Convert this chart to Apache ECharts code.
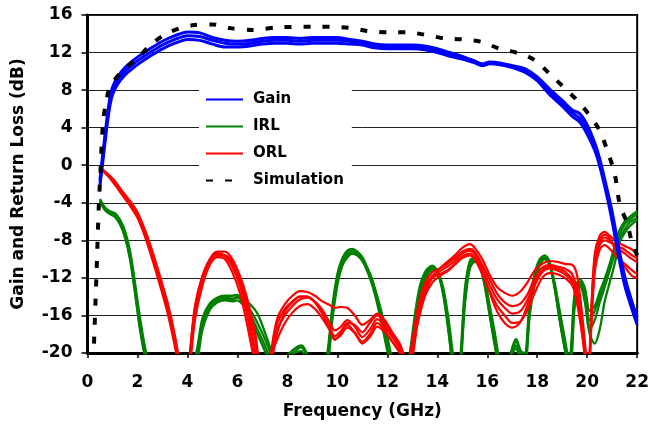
<!DOCTYPE html>
<html>
<head>
<meta charset="utf-8">
<script src="https://cdn.jsdelivr.net/npm/echarts@6/dist/echarts.min.js"></script>
<style>
html,body{margin:0;padding:0;background:#fff;}
#chart{width:652px;height:427px;}
</style>
</head>
<body>
<div id="chart"></div>
<script>
// ---------- axis ticks ----------
var xTicks = [0,2,4,6,8,10,12,14,16,18,20,22];
var yTicks = [-20,-16,-12,-8,-4,0,4,8,12,16];

// ---------- Gain (3 measured traces) ----------
var gainFreq = [0.5,0.6,0.7,0.8,0.9,1.0,1.2,1.5,1.8,2.1,
  2.5,3.0,3.5,4.0,4.5,5.0,5.5,6.0,6.5,7.0,
  7.5,8.0,8.5,9.0,9.5,10.0,10.5,11.0,11.5,12.0,
  12.5,13.0,13.5,14.0,14.5,15.0,15.5,15.8,16.1,16.5,
  17.0,17.5,18.0,18.5,19.0,19.4,19.7,20.0,20.3,20.5,
  20.8,21.0,21.3,21.5,21.75,22.0];
var gainA = [-1.5,0.9,3.2,5.4,7.2,8.3,9.4,10.4,11.1,11.7,
  12.4,13.2,13.8,14.2,14.1,13.6,13.3,13.2,13.3,13.5,
  13.6,13.6,13.5,13.6,13.6,13.6,13.4,13.2,12.9,12.8,
  12.8,12.8,12.7,12.4,12.0,11.6,11.1,10.8,11.0,10.9,
  10.6,10.3,9.4,8.1,6.9,5.9,5.5,4.3,2.4,0.7,
  -2.6,-5.0,-9.3,-11.8,-14.2,-16.2];
var gainB = [-1.8,0.5,2.8,5.0,6.8,7.9,9.0,10.0,10.7,11.3,
  12.0,12.8,13.4,13.8,13.7,13.3,13.0,12.9,13.0,13.2,
  13.3,13.3,13.2,13.3,13.3,13.3,13.2,13.0,12.7,12.6,
  12.6,12.6,12.5,12.2,11.8,11.5,11.0,10.7,10.9,10.8,
  10.5,10.1,9.2,7.8,6.6,5.6,5.0,3.8,2.0,0.3,
  -3.0,-5.5,-9.8,-12.3,-14.6,-16.6];
var gainC = [-2.1,0.1,2.4,4.6,6.4,7.5,8.6,9.6,10.3,10.9,
  11.6,12.4,13.0,13.4,13.3,12.9,12.6,12.6,12.7,12.9,
  13.0,13.0,12.9,13.0,13.0,13.0,12.9,12.8,12.5,12.4,
  12.4,12.4,12.3,12.0,11.6,11.3,10.9,10.6,10.8,10.7,
  10.4,9.9,9.0,7.5,6.3,5.2,4.6,3.3,1.6,-0.1,
  -3.4,-6.0,-10.3,-12.8,-15.0,-17.0];

// ---------- IRL (4 measured traces) ----------
var irlFreq = [0.5,0.7,0.9,1.1,1.3,1.5,1.7,1.9,2.1,2.35,
  3.3,4.35,4.6,4.9,5.2,5.5,5.8,6.0,6.2,6.5,
  6.8,7.1,7.35,7.7,8.05,8.3,8.55,8.8,9.2,9.6,
  9.8,10.0,10.2,10.4,10.6,10.8,11.0,11.2,11.4,11.6,
  11.8,12.0,12.15,12.5,12.9,13.1,13.3,13.55,13.8,14.05,
  14.25,14.45,14.6,14.8,14.95,15.1,15.3,15.5,15.7,15.9,
  16.1,16.3,16.45,16.7,16.95,17.15,17.35,17.5,17.7,17.9,
  18.1,18.3,18.5,18.7,18.9,19.1,19.25,19.35,19.5,19.7,
  19.9,20.1,20.3,20.5,20.7,20.9,21.1,21.3,21.5,21.7,22.0];
var irlA = [-3.7,-4.6,-5.0,-5.3,-6.0,-7.3,-9.5,-13.0,-16.8,-20.5,
  -30,-20.5,-16.8,-15.0,-14.3,-14.1,-14.2,-14.0,-14.6,-15.8,
  -17.5,-19.2,-21,-24,-20.2,-19.5,-19.2,-20.2,-25,-20.5,
  -15.5,-12.0,-10.2,-9.4,-9.1,-9.4,-10.0,-11.0,-12.3,-14.2,
  -16.5,-19.0,-21,-26,-20.5,-16.5,-13.3,-11.5,-10.9,-11.6,
  -13.5,-17.0,-20.5,-24,-20,-14,-10.5,-10.0,-10.6,-12.5,
  -15.5,-18.5,-21,-24,-20,-18.8,-20,-20.5,-15,-12,
  -10.3,-9.8,-10.5,-12.8,-16,-19,-21,-20,-14,-12.4,
  -13.5,-16.5,-15.5,-14,-12.5,-11,-9,-7.3,-6.3,-5.8,-5.2];
var irlB = [-3.9,-4.8,-5.2,-5.5,-6.3,-7.7,-10.0,-13.6,-17.5,-21,
  -30,-21.5,-17.5,-15.4,-14.6,-14.4,-14.5,-14.4,-14.8,-15.4,
  -16.8,-18.5,-20.3,-24,-21,-20,-19.8,-21,-25,-21.5,
  -16.5,-12.8,-10.7,-9.8,-9.4,-9.6,-10.1,-11.1,-12.4,-14.0,
  -16.0,-18.3,-20.2,-26,-21.5,-17.5,-14,-12,-11.2,-11.6,
  -13.2,-16.4,-19.6,-24,-21,-15,-11,-10.3,-10.7,-12.2,
  -15,-17.8,-20.3,-24,-20.5,-19.5,-21,-21.5,-16,-12.6,
  -10.6,-10.0,-10.6,-12.6,-15.5,-18.4,-20.5,-20.8,-15,-12.8,
  -14,-17.5,-16.5,-14.6,-13,-11.2,-9.5,-7.8,-6.8,-6.1,-5.6];
var irlC = [-3.6,-4.5,-4.9,-5.1,-5.8,-7.0,-9.1,-12.5,-16.2,-20,
  -30,-20,-16.3,-14.7,-14.1,-13.9,-13.9,-13.8,-14.4,-16.2,
  -18,-19.8,-21.5,-24,-20.5,-19.8,-19.4,-20.5,-25,-20,
  -15,-11.6,-9.9,-9.1,-8.9,-9.2,-9.8,-10.9,-12.2,-14.4,
  -16.9,-19.5,-21.5,-26,-20,-16,-12.9,-11.2,-10.7,-11.5,
  -13.8,-17.5,-21,-24,-19.5,-13.3,-10.2,-9.8,-10.4,-12.7,
  -16,-19.2,-21.5,-24,-20,-18.5,-19.8,-20,-14.4,-11.5,
  -10.0,-9.6,-10.3,-13,-16.5,-19.5,-21.5,-19.5,-13.5,-12.1,
  -13,-15.5,-15,-13.5,-12.1,-10.5,-8.6,-6.9,-6.0,-5.5,-4.9];
var irlD = [-3.8,-4.7,-5.1,-5.4,-6.1,-7.5,-9.8,-13.3,-17.2,-20.8,
  -30,-21,-17,-15.2,-14.5,-14.3,-14.3,-14.1,-14.3,-14.8,
  -15.8,-17.8,-19.8,-24,-21,-20.5,-20.3,-21,-25,-21,
  -16,-12.4,-10.5,-9.6,-9.3,-9.6,-10.2,-11.3,-12.8,-14.8,
  -17.2,-19.8,-21.5,-26,-21,-17,-13.7,-11.8,-11.1,-11.8,
  -14,-17.8,-21,-24,-20.5,-14.5,-10.8,-10.2,-10.8,-12.9,
  -16,-19,-21,-24,-20.3,-19.2,-20.4,-21,-15.5,-12.3,
  -10.4,-9.9,-10.7,-13.2,-16.5,-19.5,-21,-20.5,-14.6,-12.7,
  -14.5,-18,-19,-17.5,-14.5,-12.5,-10.5,-8.2,-7.2,-6.5,-5.8];

// ---------- ORL (5 measured traces) ----------
var orlFreq = [0.5,0.8,1.1,1.4,1.7,2.0,2.3,2.6,2.9,3.2,
  3.45,3.65,3.9,4.1,4.3,4.6,4.9,5.2,5.5,5.8,
  6.1,6.35,6.6,6.75,7.1,7.4,7.6,7.9,8.2,8.5,
  8.8,9.1,9.4,9.7,9.9,10.1,10.4,10.7,11.0,11.3,
  11.6,11.9,12.2,12.5,12.75,12.95,13.2,13.5,13.8,14.1,
  14.4,14.7,15.0,15.3,15.5,15.8,16.1,16.4,16.7,17.0,
  17.3,17.6,17.9,18.2,18.5,18.8,19.1,19.4,19.6,19.8,
  19.95,20.05,20.15,20.3,20.5,20.7,20.9,21.2,21.5,21.8,
  22.0];
var orlA = [-0.3,-1.0,-1.9,-3.0,-4.0,-5.3,-7.2,-9.6,-12.2,-15.0,
  -18.0,-21,-26,-20.5,-15.5,-12.0,-10.2,-9.5,-9.7,-10.8,
  -12.8,-15.5,-18.8,-21,-26,-19.5,-17.5,-16.0,-15.0,-14.3,
  -14.1,-14.5,-15.4,-16.8,-17.6,-17.3,-16.5,-17.2,-18.3,-17.5,
  -16.4,-17.2,-18.3,-19.5,-20.5,-20,-16,-13,-11.8,-11.3,
  -10.8,-10.2,-9.4,-9.1,-9.5,-11.0,-12.8,-14.3,-15.2,-15.8,
  -15.6,-14.4,-12.5,-11.2,-10.8,-11.0,-11.3,-12.2,-14.0,-17.5,
  -21,-23,-17,-10.5,-8.2,-7.7,-8.0,-8.8,-9.4,-10.0,
  -10.3];
var orlB = [-0.2,-0.9,-1.7,-2.8,-3.8,-5.0,-6.9,-9.2,-11.8,-14.6,
  -17.5,-20.5,-26,-21,-16,-12.3,-10.0,-9.2,-9.2,-10.0,
  -11.8,-13.8,-16.5,-18.5,-26,-19,-16.3,-14.8,-13.9,-13.4,
  -13.5,-13.9,-14.5,-14.9,-15.2,-15.1,-15.2,-16.0,-17.0,-16.5,
  -15.8,-16.5,-17.8,-19.0,-20.5,-20.5,-17,-13.8,-11.9,-11.0,
  -10.3,-9.6,-8.8,-8.4,-8.8,-10.0,-11.7,-13.0,-13.6,-13.9,
  -13.5,-12.5,-11.2,-10.5,-10.2,-10.3,-10.5,-10.6,-11.8,-16,
  -20,-22,-16,-9.5,-7.5,-7.1,-7.5,-8.2,-8.6,-9.0,
  -9.4];
var orlC = [-0.4,-1.1,-2.1,-3.2,-4.3,-5.6,-7.6,-10.1,-12.8,-15.7,
  -18.7,-21.5,-26,-20,-15,-11.8,-10.4,-9.8,-10.0,-11.4,
  -13.6,-16.5,-19.8,-21.5,-26,-20,-18.5,-16.8,-15.7,-15.0,
  -14.8,-15.3,-16.3,-17.6,-18.5,-18.2,-17.3,-17.9,-19.0,-18.3,
  -17.2,-17.8,-18.8,-20.0,-21,-20.5,-17,-14,-12.5,-11.8,
  -11.3,-10.6,-9.9,-9.6,-10.0,-11.6,-13.4,-15.0,-16.0,-16.8,
  -16.7,-15.5,-13.6,-12.0,-11.5,-11.6,-12.0,-12.8,-14.5,-18,
  -21.5,-23,-18,-11.5,-9.0,-8.5,-8.9,-9.8,-10.5,-11.2,
  -11.6];
var orlD = [-0.3,-1.0,-2.0,-3.1,-4.2,-5.5,-7.4,-9.9,-12.5,-15.3,
  -18.3,-21,-26,-21.5,-16.5,-12.8,-10.6,-9.7,-9.6,-10.3,
  -12.0,-14.5,-17.2,-19.2,-26,-20.5,-17.8,-15.6,-14.6,-14.0,
  -14.0,-14.6,-15.8,-17.5,-18.6,-18.0,-16.8,-17.0,-17.8,-16.8,
  -16.0,-16.8,-18.0,-19.2,-20.5,-20.3,-16.5,-13.4,-12.0,-11.6,
  -11.2,-10.5,-9.7,-9.4,-9.9,-11.5,-13.6,-15.6,-16.8,-17.3,
  -16.8,-15.0,-12.8,-11.4,-11.0,-11.2,-11.6,-12.5,-14.8,-18,
  -21,-23,-16.5,-10,-7.9,-7.4,-7.8,-9.4,-10.8,-11.8,
  -12.0];
var orlE = [-0.3,-1.0,-1.9,-2.9,-3.9,-5.2,-7.0,-9.4,-12.0,-14.8,
  -17.8,-20.8,-26,-20.2,-15.2,-11.8,-10.0,-9.4,-9.6,-10.6,
  -12.5,-15.0,-18.2,-20.5,-26,-19.2,-16.8,-15.3,-14.5,-14.0,
  -14.0,-14.6,-15.8,-17.3,-18.2,-17.8,-17.0,-17.8,-18.8,-18.0,
  -16.8,-17.6,-18.8,-19.8,-21,-19.5,-15.5,-12.6,-11.4,-11.0,
  -10.5,-9.9,-9.2,-8.9,-9.2,-10.6,-12.2,-13.7,-14.6,-15.0,
  -14.8,-13.8,-12.0,-10.9,-10.6,-10.8,-11.0,-11.6,-13.4,-17,
  -20.5,-23,-17.5,-10.8,-8.5,-8.0,-8.2,-8.6,-9.0,-9.6,
  -9.9];

// ---------- Simulation ----------
var simFreq = [0.26,0.36,0.46,0.5,0.62,0.75,0.9,1.4,2.0,2.6,
  3.3,4.2,5.0,5.7,6.6,7.7,9.2,10.45,11.2,12.05,
  12.8,13.5,14.3,15.0,15.76,16.5,17.3,17.9,18.55,19.1,
  19.6,20.1,20.5,20.8,21.1,21.3,21.6,21.8,22.0];
var simDb = [-19,-11.5,-3.7,-1.8,4.5,6.8,8.3,10.1,11.4,13.0,
  14.2,14.9,15.0,14.6,14.4,14.7,14.75,14.65,14.3,14.15,
  14.15,13.9,13.5,13.4,13.15,12.4,11.9,11.2,9.6,8.2,
  6.9,5.3,3.7,1.6,-0.9,-4.1,-6.2,-8.3,-9.6];

var FONT = '"DejaVu Sans", sans-serif';
function pairs(fr, ys){ return fr.map(function(f,i){ return [f, ys[i]]; }); }
function trace(name, color, width, fr, ys, extra){
  var s = {
    name: name, type: 'line', data: pairs(fr, ys), showSymbol: false, symbol: 'none',
    smooth: 0.3, clip: true, silent: true,
    lineStyle: {color: color, width: width}, itemStyle: {color: color}
  };
  if (extra) for (var k in extra) s[k] = extra[k];
  return s;
}

var series = [];
[irlA, irlB, irlC, irlD].forEach(function(t){ series.push(trace('IRL', '#008000', 2.3, irlFreq, t)); });
[orlA, orlB, orlC, orlD, orlE].forEach(function(t){ series.push(trace('ORL', '#FF0000', 2.2, orlFreq, t)); });
[gainA, gainB, gainC].forEach(function(t){ series.push(trace('Gain', '#0000FF', 3, gainFreq, t)); });
series.push(trace('Simulation', '#000000', 4, simFreq, simDb, {lineStyle: {color: '#000', width: 4, type: [7, 12]}}));

var chart = echarts.init(document.getElementById('chart'), null, {renderer: 'canvas'});
chart.setOption({
  animation: false,
  backgroundColor: '#fff',
  grid: {left: 87.5, right: 12, top: 15, bottom: 74, show: true, borderColor: '#000', borderWidth: 2, backgroundColor: 'transparent'},
  legend: {
    data: ['Gain', 'IRL', 'ORL', 'Simulation'],
    orient: 'vertical', left: 199, top: 80,
    padding: [12, 8, 12, 6],
    backgroundColor: '#fff',
    itemWidth: 37, itemHeight: 14, itemGap: 12,
    itemStyle: {opacity: 0},
    lineStyle: {opacity: 1},
    textStyle: {fontFamily: FONT, fontWeight: 'bold', fontSize: 15, color: '#000', padding: [0, 0, 0, 5], lineHeight: 14},
    selectedMode: false
  },
  xAxis: {
    type: 'value', min: xTicks[0], max: xTicks[xTicks.length - 1], interval: 2,
    name: 'Frequency (GHz)', nameLocation: 'middle', nameGap: 50,
    nameTextStyle: {fontFamily: FONT, fontWeight: 'bold', fontSize: 17, color: '#000'},
    axisLine: {show: true, onZero: false, lineStyle: {color: '#000', width: 3}},
    axisTick: {show: true, inside: false, length: 5, lineStyle: {color: '#000', width: 1.5}},
    axisLabel: {fontFamily: FONT, fontWeight: 'bold', fontSize: 17, color: '#000', margin: 21},
    splitLine: {show: false}
  },
  yAxis: {
    type: 'value', min: yTicks[0], max: yTicks[yTicks.length - 1], interval: 4,
    name: 'Gain and Return Loss (dB)', nameLocation: 'middle', nameGap: 60, nameRotate: 90,
    nameTextStyle: {fontFamily: FONT, fontWeight: 'bold', fontSize: 17, color: '#000'},
    axisLine: {show: true, onZero: false, lineStyle: {color: '#000', width: 3}},
    axisTick: {show: true, inside: false, length: 6, lineStyle: {color: '#000', width: 1.5}},
    axisLabel: {fontFamily: FONT, fontWeight: 'bold', fontSize: 17, color: '#000', margin: 15},
    splitLine: {show: true, lineStyle: {color: '#222', width: 1}}
  },
  series: series
});
</script>
</body>
</html>
